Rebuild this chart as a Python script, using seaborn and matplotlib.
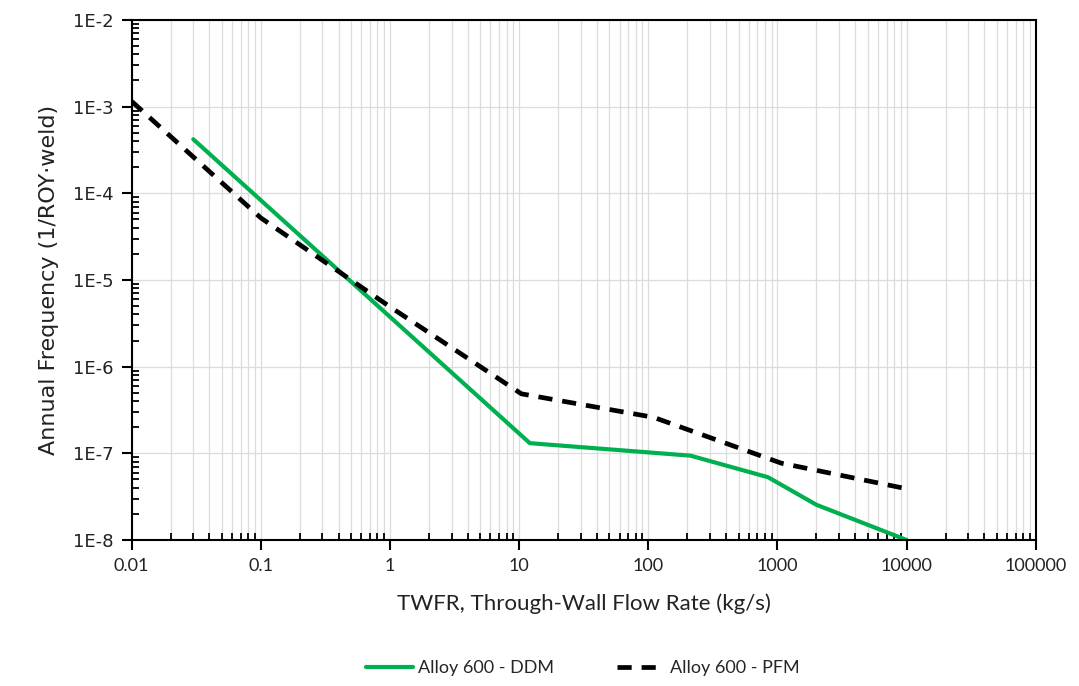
import numpy as np
import pandas as pd
import matplotlib
matplotlib.use("Agg")
import matplotlib.pyplot as plt
import matplotlib.ticker as mticker
from matplotlib.lines import Line2D
import seaborn as sns

# Data
ddm_x = [0.03, 12.1, 212, 845, 2000, 10000]
ddm_y = [4.2e-4, 1.31e-7, 9.4e-8, 5.3e-8, 2.55e-8, 1.0e-8]
pfm_x = [0.01, 0.1, 1, 10.4, 110, 1070, 10000]
pfm_y = [1.15e-3, 5.2e-5, 4.9e-6, 4.86e-7, 2.6e-7, 7.7e-8, 3.9e-8]

x_ticks = [0.01, 0.1, 1, 10, 100, 1000, 10000, 100000]
x_ticklabels = ["0.01", "0.1", "1", "10", "100", "1000", "10000", "100000"]
y_ticks = [1e-8, 1e-7, 1e-6, 1e-5, 1e-4, 1e-3, 1e-2]
y_ticklabels = ["1E-8", "1E-7", "1E-6", "1E-5", "1E-4", "1E-3", "1E-2"]

series_names = ["Alloy 600 - DDM", "Alloy 600 - PFM"]
colors = {"Alloy 600 - DDM": "#00B050", "Alloy 600 - PFM": "#000000"}

df = pd.concat([
    pd.DataFrame({"x": ddm_x, "y": ddm_y, "series": series_names[0]}),
    pd.DataFrame({"x": pfm_x, "y": pfm_y, "series": series_names[1]}),
], ignore_index=True)

sns.set_theme(style="white", rc={"xtick.bottom": True, "ytick.left": True,
                                 "xtick.minor.visible": True, "ytick.minor.visible": True})
plt.rcParams['font.family'] = ['Lato', 'DejaVu Sans']

fig = plt.figure(figsize=(10.79, 6.86), dpi=100)
ax = fig.add_axes([0.122, 0.2128, 0.838, 0.7582])

sns.lineplot(data=df[df.series == series_names[0]], x="x", y="y", color=colors[series_names[0]],
             linewidth=3.0, sort=False, estimator=None, ax=ax, legend=False)
sns.lineplot(data=df[df.series == series_names[1]], x="x", y="y", color=colors[series_names[1]],
             linewidth=3.4, sort=False, estimator=None, ax=ax, legend=False)
ax.lines[1].set_dashes((3.0, 2.1))

ax.set_xscale("log")
ax.set_yscale("log")
ax.set_xlim(0.01, 100000)
ax.set_ylim(1e-8, 1e-2)

ax.set_xticks(x_ticks)
ax.set_xticklabels(x_ticklabels, fontsize=13, color="#222222")
ax.set_yticks(y_ticks)
ax.set_yticklabels(y_ticklabels, fontsize=13, color="#222222", family=["DejaVu Sans"])

x_minor = [m * 10.0 ** e for e in range(-2, 5) for m in range(2, 10)]
y_minor = [m * 10.0 ** e for e in range(-8, -2) for m in range(2, 10)]
ax.set_xticks(x_minor, minor=True)
ax.set_yticks(y_minor, minor=True)
ax.xaxis.set_minor_formatter(mticker.NullFormatter())
ax.yaxis.set_minor_formatter(mticker.NullFormatter())

ax.grid(True, which="major", axis="both", color="#dcdcdc", linewidth=0.9)
ax.grid(True, which="minor", axis="x", color="#dcdcdc", linewidth=0.9)
ax.grid(False, which="minor", axis="y")
ax.set_axisbelow(True)

for s in ax.spines.values():
    s.set_color("black")
    s.set_linewidth(1.5)

ax.xaxis.set_tick_params(which="major", bottom=True, top=False, direction="out", length=7,
                         width=1.5, color="black", pad=6)
ax.yaxis.set_tick_params(which="major", left=True, right=False, direction="out", length=7,
                         width=1.5, color="black", pad=6)
ax.xaxis.set_tick_params(which="minor", bottom=True, top=False, direction="in", length=5,
                         width=1.3, color="black")
ax.yaxis.set_tick_params(which="minor", left=True, right=False, direction="in", length=5,
                         width=1.3, color="black")

ax.set_xlabel("TWFR, Through-Wall Flow Rate (kg/s)", fontsize=16, color="#222222", labelpad=14)
ax.set_ylabel("Annual Frequency (1/ROY\u00b7weld)", fontsize=16, color="#222222", labelpad=10,
              family=["DejaVu Sans"])

handles = [Line2D([0], [0], color=colors[series_names[0]], lw=3.0),
           Line2D([0], [0], color=colors[series_names[1]], lw=3.4, dashes=(3.0, 2.1))]
fig.legend(handles, series_names, loc="center", bbox_to_anchor=(0.54, 0.026), ncol=2,
           frameon=False, fontsize=13, handlelength=2.6, columnspacing=3.5, handletextpad=0.3)

fig.savefig("out.png", dpi=100)
